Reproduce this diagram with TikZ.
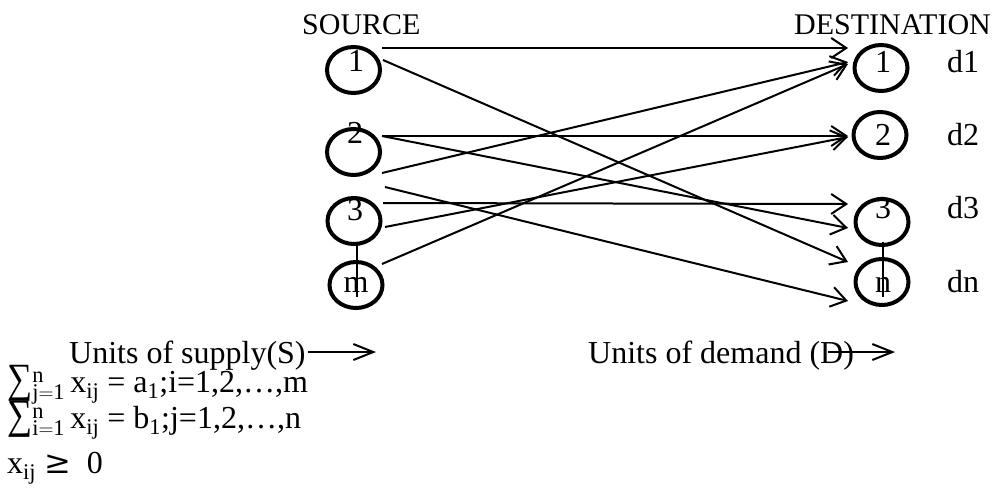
\documentclass[tikz,border=0pt]{standalone}
\usepackage{graphicx}
\usepackage{fontspec}
\setmainfont{Liberation Serif}
\newfontfamily\symf{DejaVu Serif}
\usetikzlibrary{arrows.meta,shapes.geometric}
% tall summation sign used in the constraints
\newcommand{\bigsum}{\scalebox{1.1}[1.3]{∑}}
\begin{document}
\begin{tikzpicture}[x=1pt,y=-1pt,
  ring/.style={draw,ellipse,line width=4pt,minimum width=53pt,minimum height=46pt,inner sep=0pt},
  txt/.style={inner sep=0pt,font=\fontsize{32}{38}\selectfont},
  head/.style={inner sep=0pt,font=\fontsize{30}{36}\selectfont},
  flow/.style={line width=2pt,-{Straight Barb[length=15pt,width=20pt]}},
  bigarrow/.style={line width=2pt,-{Straight Barb[length=20pt,width=16pt]}},
  stem/.style={line width=2pt}]
\useasboundingbox (0,0) rectangle (992,493);

% headings
\node[head,anchor=base west] (src) at (302,34) {SOURCE};
\node[head,anchor=base east] (dst) at (991,34) {DESTINATION};

% source rings
\node[ring] (s1) at (353.5,70) {};
\node[ring] (s2) at (353.5,152) {};
\node[ring] (s3) at (354,221) {};
\node[ring] (sm) at (356,285) {};
\node[txt,anchor=base] (s1t) at (356,71) {1};
\node[txt,anchor=base] (s2t) at (355,143) {2};
\node[txt,anchor=base] (s3t) at (355,220) {3};
\node[txt,anchor=base] (smt) at (356,292) {m};

% destination rings
\node[ring] (t1) at (881,68) {};
\node[ring] (t2) at (880,135) {};
\node[ring] (t3) at (882,222) {};
\node[ring] (tn) at (882,282) {};
\node[txt,anchor=base] (t1t) at (883,72) {1};
\node[txt,anchor=base] (t2t) at (883,145) {2};
\node[txt,anchor=base] (t3t) at (883,218) {3};
\node[txt,anchor=base] (tnt) at (883,292) {n};

% demand labels
\node[txt,anchor=base west] (d1) at (947,72) {d1};
\node[txt,anchor=base west] (d2) at (947,145) {d2};
\node[txt,anchor=base west] (d3) at (947,218) {d3};
\node[txt,anchor=base west] (dn) at (947,292) {dn};

% stems joining the last two rings
\coordinate (sv1) at (357,245);
\coordinate (sv2) at (357,297);
\coordinate (tv1) at (883,242);
\coordinate (tv2) at (883,297);
\draw[stem] (sv1) -- (sv2);
\draw[stem] (tv1) -- (tv2);

% start points of the routes
\coordinate (oA) at (382,48);
\coordinate (oB) at (383,60);
\coordinate (oC) at (382,136);
\coordinate (oE) at (382,173);
\coordinate (oF) at (385,187);
\coordinate (oG) at (383,203);
\coordinate (oH) at (385,227);
\coordinate (oI) at (382,264);
% end points of the routes
\coordinate (iA) at (848,48);
\coordinate (iB) at (848,262);
\coordinate (iC) at (848,136);
\coordinate (iD) at (848,228);
\coordinate (iE) at (848,62);
\coordinate (iF) at (848,301);
\coordinate (iG) at (848,204);
\coordinate (iH) at (848,137);
\coordinate (iI) at (848,64);

\draw[flow] (oA) -- (iA);
\draw[flow] (oB) -- (iB);
\draw[flow] (oC) -- (iC);
\draw[flow] (oC) -- (iD);
\draw[flow] (oE) -- (iE);
\draw[flow] (oF) -- (iF);
\draw[flow] (oG) -- (iG);
\draw[flow] (oH) -- (iH);
\draw[flow] (oI) -- (iI);

% supply and demand captions
\node[txt,anchor=base west] (sup) at (69,363) {Units of supply(S)};
\coordinate (supA) at (308,352);
\coordinate (supB) at (376,352);
\draw[bigarrow] (supA) -- (supB);
\node[txt,anchor=base west] (dem) at (588,363) {Units of demand (D)};
\coordinate (demA) at (828,352);
\coordinate (demB) at (895,352);
\draw[bigarrow] (demA) -- (demB);

% constraints
\node[txt,anchor=base west] (eq1) at (7,392)
  {\bigsum$_{\mathrm{j=1}}^{\mathrm{n}}$\,$\mathrm{x}_{\mathrm{ij}}$ = a$_{\mathrm{1}}$;i=1,2,…,m};
\node[txt,anchor=base west] (eq2) at (7,428)
  {\bigsum$_{\mathrm{i=1}}^{\mathrm{n}}$\,$\mathrm{x}_{\mathrm{ij}}$ = b$_{\mathrm{1}}$;j=1,2,…,n};
\node[txt,anchor=base west] (eq3) at (7,473)
  {$\mathrm{x}_{\mathrm{ij}}$ {\symf ≥}\ \ 0};
\end{tikzpicture}
\end{document}
